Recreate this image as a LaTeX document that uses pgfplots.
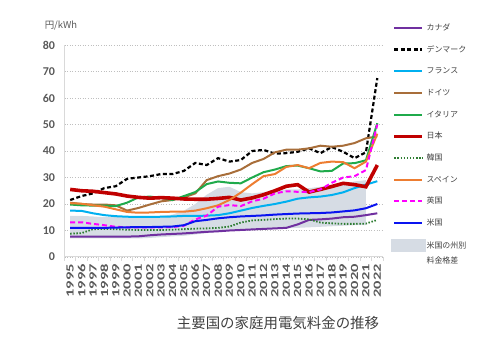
\documentclass[border=0pt]{standalone}
\usepackage{pgfplots}
\pgfplotsset{compat=1.18}
\usepackage{pgfplotstable}
\usepackage{fontspec}
\newfontfamily\jp{Noto Sans CJK JP}
\newfontfamily\num{Carlito}
\newfontfamily\numx{Carlito}[FakeStretch=1.5]
\definecolor{txt}{HTML}{595959}
\definecolor{txtd}{HTML}{404040}
\definecolor{cCA}{HTML}{7030A0}
\definecolor{cFR}{HTML}{00B0F0}
\definecolor{cDE}{HTML}{A86E3A}
\definecolor{cIT}{HTML}{1FAA4B}
\definecolor{cJP}{HTML}{C00000}
\definecolor{cKR}{HTML}{2E7D32}
\definecolor{cES}{HTML}{ED7D31}
\definecolor{cUK}{HTML}{FF00FF}
\definecolor{cUS}{HTML}{0A14F0}
\definecolor{band}{HTML}{D6DCE4}
\definecolor{gridc}{HTML}{BFBFBF}
\definecolor{axc}{HTML}{D9D9D9}

\pgfplotstableread{
year ca dk fr de it jp kr es uk us
1995 7.7 21.5 17.5 20.5 19.8 25.5 8.8 20.3 13.1 11.0
1996 7.7 23.0 17.4 20.0 19.5 25.0 9.0 20.1 13.1 11.0
1997 7.7 24.0 16.5 19.8 19.4 24.8 10.5 19.5 12.5 11.0
1998 7.7 26.0 15.8 19.8 19.4 24.3 10.6 19.0 12.0 11.0
1999 7.7 26.7 15.4 19.5 19.2 23.8 10.5 18.0 11.4 11.1
2000 7.7 29.5 15.2 17.5 20.5 23.0 10.3 17.0 11.2 11.2
2001 7.8 30.0 15.1 18.5 22.5 22.5 10.2 16.7 11.2 11.3
2002 8.2 30.5 15.1 19.8 22.8 22.2 10.2 16.8 11.2 11.3
2003 8.5 31.3 15.2 21.0 22.3 22.4 10.2 17.0 11.2 11.4
2004 8.7 31.3 15.3 21.5 21.5 22.2 10.3 17.1 11.3 11.5
2005 8.9 32.5 15.5 22.5 23.0 21.9 10.5 17.1 11.8 12.0
2006 9.2 35.5 15.5 24.0 24.5 21.8 10.7 17.5 14.2 13.5
2007 9.5 34.7 15.6 29.0 27.5 21.8 10.8 18.4 15.6 14.0
2008 9.7 37.3 15.8 30.5 28.5 22.1 11.0 19.5 19.0 14.6
2009 10.0 36.0 16.5 31.5 28.0 22.5 11.5 21.5 19.6 15.0
2010 10.2 36.6 17.5 33.0 27.8 21.5 13.0 24.3 19.2 15.3
2011 10.4 40.0 18.5 35.5 30.0 22.3 13.8 27.5 21.0 15.5
2012 10.6 40.4 19.3 37.0 32.0 23.5 14.0 30.5 22.0 15.7
2013 10.8 39.0 20.0 39.5 33.0 25.0 14.3 31.3 24.0 16.0
2014 11.0 39.2 20.9 40.5 34.3 26.7 14.5 34.0 24.8 16.2
2015 12.3 39.7 22.0 40.5 34.5 27.3 14.5 34.7 24.6 16.4
2016 14.0 41.0 22.5 41.0 33.5 24.5 14.2 33.5 24.5 16.5
2017 14.2 39.2 22.8 42.0 32.3 25.5 13.0 35.5 25.5 16.6
2018 14.5 41.5 23.4 41.6 32.5 26.6 12.7 36.0 28.0 16.8
2019 15.0 39.7 24.4 42.0 35.3 27.8 12.5 35.8 30.0 17.2
2020 15.2 37.3 26.0 43.0 35.4 27.3 12.5 33.5 30.5 17.6
2021 15.8 39.5 27.3 44.8 36.5 26.5 12.6 36.0 32.8 18.4
2022 16.5 67.5 28.6 45.5 50.5 34.7 14.0 46.5 50.0 20.0
}\data

\begin{document}
\begin{tikzpicture}
\path[use as bounding box] (0bp,0bp) rectangle (500bp,349bp);
\begin{axis}[
  at={(64.5bp,92bp)}, anchor=south west,
  scale only axis, width=318.5bp, height=212bp,
  xmin=1994.5, xmax=2022.5, ymin=0, ymax=80,
  xtick={1995,...,2022}, ytick={0,10,...,80},
  minor xtick={1994.5,1995.5,...,2022.5},
  /pgf/number format/assume math mode=true,
  /pgf/number format/1000 sep={},
  axis x line*=bottom, axis y line*=left,
  axis line style={draw=axc, line width=1bp, -},
  major tick length=0pt, minor tick length=4bp,
  tick align=outside,
  minor tick style={draw=axc, line width=0.8bp},
  ymajorgrids, major grid style={draw=gridc, line width=0.8bp, dash pattern=on 1bp off 1.6bp},
  y tick label style={font=\num\bfseries\fontsize{12}{12}\selectfont, text=txt, xshift=-6bp},
  x tick label style={font=\numx\bfseries\fontsize{11}{11}\selectfont, text=txt, yshift=-3.5bp, rotate=90, anchor=east},
  legend style={at={(axis description cs:1.025,1.108)}, anchor=north west, draw=none, fill=none,
    inner sep=0pt, row sep=10.7bp, font=\jp\fontsize{8}{9}\selectfont, text=txtd,
    nodes={inner sep=1bp, text height=7bp, text depth=2bp}},
  legend cell align=left,
  legend image code/.code={\draw[#1] (3bp,0bp) -- (31bp,0bp);},
]
\addplot[draw=none, fill=band, forget plot] coordinates {
(1995,15.5) (1996,15.5) (1997,15.3) (1998,15.0) (1999,15.0) (2000,15.0) (2001,15.0) (2002,15.2) (2003,15.5) (2004,16.0) (2005,17.5) (2006,20.0) (2007,23.5) (2008,26.0) (2009,26.5) (2010,24.5) (2011,24.0) (2012,24.5) (2013,25.0) (2014,25.5) (2015,25.5) (2016,26.0) (2017,26.5) (2018,27.0) (2019,27.5) (2020,28.5) (2021,29.0)
(2021,12.0) (2020,12.0) (2019,11.8) (2018,11.6) (2017,11.4) (2016,11.2) (2015,11.0) (2014,10.8) (2013,10.7) (2012,10.6) (2011,10.5) (2010,10.3) (2009,10.0) (2008,9.5) (2007,9.0) (2006,8.5) (2005,8.0) (2004,7.8) (2003,7.5) (2002,7.2) (2001,7.0) (2000,7.0) (1999,7.0) (1998,7.0) (1997,7.0) (1996,7.0) (1995,7.0)
} -- cycle;
\addplot[cCA, line width=2bp] table[x=year, y=ca] {\data};
\addlegendentry{カナダ}
\addplot[black, line width=2.2bp, dash pattern=on 4bp off 2.5bp] table[x=year, y=dk] {\data};
\addlegendentry{デンマーク}
\addplot[cFR, line width=2bp] table[x=year, y=fr] {\data};
\addlegendentry{フランス}
\addplot[cDE, line width=2bp] table[x=year, y=de] {\data};
\addlegendentry{ドイツ}
\addplot[cIT, line width=2bp] table[x=year, y=it] {\data};
\addlegendentry{イタリア}
\addplot[cJP, line width=3.6bp] table[x=year, y=jp] {\data};
\addlegendentry{日本}
\addplot[cKR, line width=1.8bp, dash pattern=on 1.5bp off 1.6bp] table[x=year, y=kr] {\data};
\addlegendentry{韓国}
\addplot[cES, line width=2bp] table[x=year, y=es] {\data};
\addlegendentry{スペイン}
\addplot[cUK, line width=2bp, dash pattern=on 5bp off 3bp] table[x=year, y=uk] {\data};
\addlegendentry{英国}
\addplot[cUS, line width=2bp] table[x=year, y=us] {\data};
\addlegendentry{米国}
\addlegendimage{legend image code/.code={\fill[band] (0bp,-6bp) rectangle (34bp,6bp);}}
\addlegendentry{\begin{tabular}[t]{@{}l@{}}米国の州別\\[6bp]料金格差\end{tabular}}
\end{axis}
\node[font=\jp\fontsize{14.5}{15}\selectfont, text=txtd] at (278bp,26bp) {主要国の家庭用電気料金の推移};
\node[font=\jp\fontsize{9.5}{10}\selectfont, text=txt] at (61bp,323bp) {円/kWh};
\end{tikzpicture}
\end{document}
